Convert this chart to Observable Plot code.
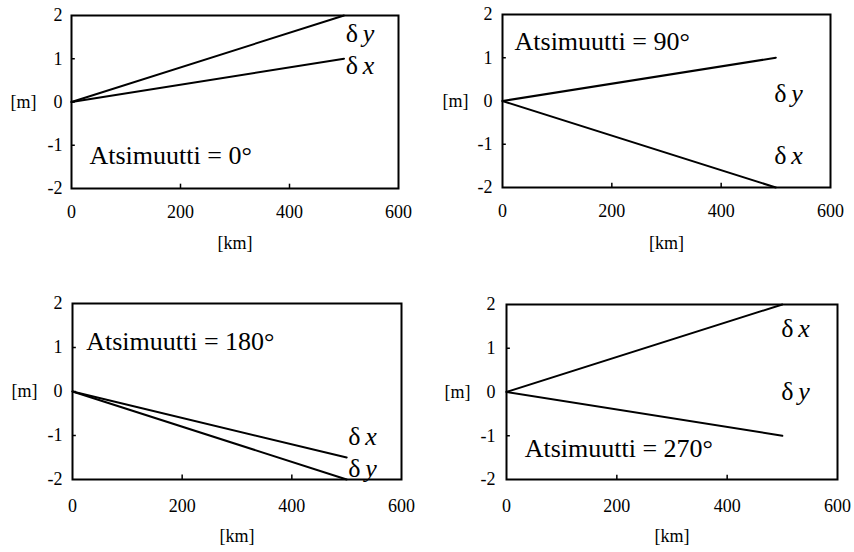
<!DOCTYPE html>
<html>
<head>
<meta charset="utf-8">
<script src="https://cdn.jsdelivr.net/npm/d3@7"></script>
<script src="https://cdn.jsdelivr.net/npm/@observablehq/plot@0.6"></script>
<style>
  html, body { margin: 0; padding: 0; background: #fff; }
  #wrap { position: relative; width: 854px; height: 552px; background: #fff; overflow: hidden; }
  .panel { position: absolute; }
  .panel svg, .panel svg text { font-family: 'Liberation Serif', 'Times New Roman', serif !important; }
</style>
</head>
<body>
<div id="wrap"></div>
<script>
// ---- data ----
const azimuths = ["0°", "90°", "180°", "270°"];
const distanceKm = [0, 500];
const deltaX = [[0, 1], [0, -2], [0, -1.5], [0, 2]];
const deltaY = [[0, 2], [0, 1], [0, -2], [0, -1]];
const xTicks = [0, 200, 400, 600];
const yTicks = [-2, -1, 0, 1, 2];
const xInnerTicks = [200, 400];
const yInnerTicks = [-1, 0, 1];
// label anchor positions (data coordinates)
const titleX = [33, 22, 25, 33];
const titleY = [-1.24, 1.38, 1.14, -1.29];
const deltaLabelX = [503, 497, 503, 498];
const deltaXLabelY = [0.83, -1.26, -1.02, 1.45];
const deltaYLabelY = [1.57, 0.16, -1.75, 0.01];

// ---- layout (pixels) ----
const layout = [
  {left: 0,   top: 0,   ml: 71, mr: 29, mt: 15, mb: 88, xpad: 17, ypad: 9,  mdx: -48, kmdy: 60},
  {left: 427, top: 0,   ml: 75, mr: 24, mt: 14, mb: 89, xpad: 17, ypad: 10, mdx: -47, kmdy: 61},
  {left: 0,   top: 276, ml: 72, mr: 26, mt: 27, mb: 73, xpad: 20, ypad: 10, mdx: -48, kmdy: 62},
  {left: 427, top: 276, ml: 79, mr: 17, mt: 28, mb: 73, xpad: 20, ypad: 11, mdx: -49, kmdy: 62}
];

const font = "'Liberation Serif', 'Times New Roman', serif";
const wrap = document.getElementById("wrap");

azimuths.forEach((az, p) => {
  const L = layout[p];
  const rowsX = distanceKm.map((km, i) => ({km, m: deltaX[p][i]}));
  const rowsY = distanceKm.map((km, i) => ({km, m: deltaY[p][i]}));
  const chart = Plot.plot({
    width: 427,
    height: 276,
    marginLeft: L.ml,
    marginRight: L.mr,
    marginTop: L.mt,
    marginBottom: L.mb,
    style: {fontFamily: font, fontSize: "18px", color: "#000", background: "transparent", overflow: "visible"},
    x: {domain: [0, 600], axis: null, label: null},
    y: {domain: [-2, 2], axis: null, label: null},
    marks: [
      Plot.axisX(xTicks, {tickSize: 0, tickPadding: L.xpad, tickFormat: d => String(d), label: null, fontSize: 18, fontFamily: font, fill: "#000"}),
      Plot.axisY(yTicks, {tickSize: 0, tickPadding: L.ypad, tickFormat: d => String(d), label: null, fontSize: 18, fontFamily: font, fill: "#000"}),
      Plot.ruleX(xInnerTicks, {x: d => d, y1: -2, y2: -1.9, stroke: "#000", strokeWidth: 1.5}),
      Plot.ruleY(yInnerTicks, {y: d => d, x1: 0, x2: 7, stroke: "#000", strokeWidth: 1.5}),
      Plot.line(rowsX, {x: "km", y: "m", stroke: "#000", strokeWidth: 2}),
      Plot.line(rowsY, {x: "km", y: "m", stroke: "#000", strokeWidth: 2}),
      Plot.frame({stroke: "#000", strokeWidth: 2}),
      Plot.text([`Atsimuutti = ${az}`], {x: titleX[p], y: titleY[p], text: d => d, textAnchor: "start", fontSize: 26, fontFamily: font, fill: "#000"}),
      Plot.text(["δ"], {x: deltaLabelX[p], y: deltaXLabelY[p], text: d => d, textAnchor: "start", fontSize: 26, fontFamily: font, fill: "#000"}),
      Plot.text(["x"], {x: deltaLabelX[p], y: deltaXLabelY[p], text: d => d, textAnchor: "start", dx: 17, fontSize: 26, fontFamily: font, fontStyle: "italic", fill: "#000"}),
      Plot.text(["δ"], {x: deltaLabelX[p], y: deltaYLabelY[p], text: d => d, textAnchor: "start", fontSize: 26, fontFamily: font, fill: "#000"}),
      Plot.text(["y"], {x: deltaLabelX[p], y: deltaYLabelY[p], text: d => d, textAnchor: "start", dx: 17, fontSize: 26, fontFamily: font, fontStyle: "italic", fill: "#000"}),
      Plot.text(["[m]"], {frameAnchor: "left", dx: L.mdx, textAnchor: "middle", text: d => d, fontSize: 18, fontFamily: font, fill: "#000"}),
      Plot.text(["[km]"], {frameAnchor: "bottom", dy: L.kmdy, textAnchor: "middle", text: d => d, fontSize: 18, fontFamily: font, fill: "#000"})
    ]
  });
  const div = document.createElement("div");
  div.className = "panel";
  div.style.left = L.left + "px";
  div.style.top = L.top + "px";
  div.appendChild(chart);
  wrap.appendChild(div);
});
</script>
</body>
</html>
